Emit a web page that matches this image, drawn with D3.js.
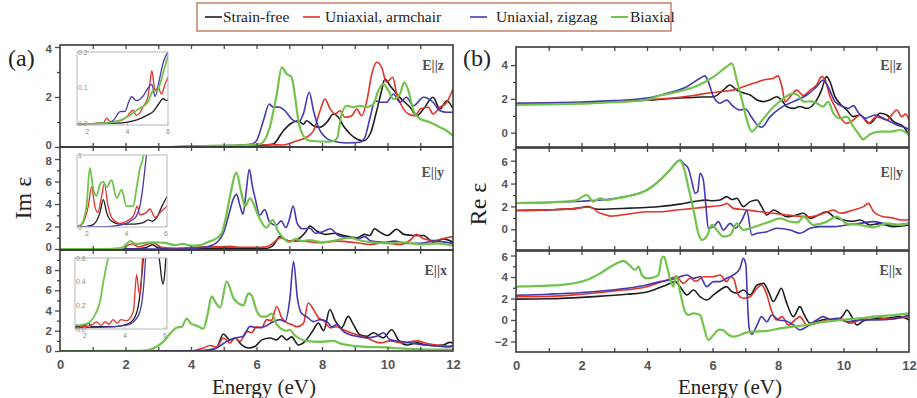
<!DOCTYPE html>
<html>
<head>
<meta charset="utf-8">
<script src="https://cdn.jsdelivr.net/npm/d3@7/dist/d3.min.js"></script>
<style>
  html, body { margin: 0; padding: 0; background: #fff; }
  svg { display: block; }
</style>
</head>
<body>
<svg id="chart" width="917" height="398"></svg>
<script>
// ---- series meta ----
const seriesNames = ["Strain-free", "Uniaxial, armchair", "Uniaxial, zigzag", "Biaxial"];
const seriesColors = ["#1e1e1e", "#e33227", "#4338b0", "#72c34c"];
const energyTicks = [0, 2, 4, 6, 8, 10, 12];
const insetTicks = [2, 4, 6];

// ---- (a) Im eps, E||z ----
const imZ_free = [[0,0],[3,0],[4,0.01],[5,0.03],[5.5,0.05],[6,0.07],[6.3,0.08],[6.51,0.12],[6.82,0.65],[7.02,0.91],[7.28,1.05],[7.43,0.91],[7.53,1.05],[7.74,0.85],[7.94,0.79],[8.15,0.99],[8.35,1.32],[8.5,1.19],[8.65,0.85],[8.86,0.52],[9.06,0.32],[9.26,0.25],[9.47,0.52],[9.67,1.45],[9.82,2.25],[9.92,2.72],[10.08,2.45],[10.28,2.12],[10.48,1.85],[10.69,1.59],[10.89,1.25],[11.1,1.52],[11.39,1.99],[11.6,1.52],[11.81,1.85],[12,1.52]];
const imZ_arm = [[0,0],[3,0],[4,0.02],[5.09,0.05],[6.39,0.09],[6.8,0.08],[7.23,0.25],[7.53,0.39],[7.74,0.65],[7.94,1.45],[8.09,1.92],[8.25,1.52],[8.4,1.32],[8.55,1.45],[8.7,1.19],[8.91,1.25],[9.06,1.52],[9.21,1.25],[9.37,1.85],[9.52,2.92],[9.67,3.39],[9.82,3.19],[9.97,2.59],[10.16,2.79],[10.28,2.12],[10.43,1.65],[10.64,1.32],[10.84,1.25],[11.0,1.52],[11.25,1.59],[11.39,1.32],[11.6,1.59],[11.81,1.79],[12,2.32]];
const imZ_zig = [[0,0],[3,0],[4,0.03],[5,0.05],[5.6,0.08],[5.85,0.12],[6.0,0.25],[6.21,1.05],[6.39,1.72],[6.51,1.59],[6.67,1.6],[6.87,1.45],[7.07,1.12],[7.28,0.99],[7.43,1.32],[7.61,2.19],[7.74,1.45],[7.89,0.79],[8.1,0.39],[8.35,0.23],[8.76,0.16],[9.16,0.19],[9.31,0.39],[9.47,1.19],[9.62,1.85],[9.77,1.79],[9.97,1.79],[10.18,2.12],[10.38,1.79],[10.58,1.99],[10.79,1.65],[11.1,1.99],[11.39,1.79],[11.6,1.45],[11.81,1.39],[12,1.39]];
const imZ_bi = [[0,0],[3,0],[4,0.02],[5,0.06],[5.7,0.08],[6.11,0.12],[6.39,0.72],[6.62,2.12],[6.77,3.19],[6.92,2.92],[7.07,2.79],[7.18,1.99],[7.28,1.05],[7.43,0.45],[7.63,0.25],[8.25,0.21],[8.45,0.32],[8.6,1.32],[8.76,1.65],[8.96,1.59],[9.16,1.65],[9.37,1.59],[9.57,1.72],[9.72,2.25],[9.87,2.52],[10.03,2.25],[10.18,1.92],[10.38,2.12],[10.51,2.59],[10.64,2.25],[10.79,1.45],[11.0,1.12],[11.3,0.99],[11.6,0.79],[11.81,0.65],[12,0.45]];

// ---- (a) Im eps, E||y ----
const imY_free = [[0,0],[2.3,0.02],[2.6,0.1],[2.83,0.38],[3.0,0.1],[3.5,0.04],[5,0.08],[6.3,0.05],[6.5,0.3],[6.72,1.1],[6.85,0.9],[7.02,0.7],[7.33,1.0],[7.5,1.5],[7.63,2.05],[7.84,1.6],[8.1,1.3],[8.4,1.4],[8.65,1.2],[9.06,1.0],[9.3,1.3],[9.46,1.2],[9.6,1.8],[9.77,1.5],[10.0,1.2],[10.28,1.75],[10.5,1.3],[10.8,1.2],[11.1,1.2],[11.4,0.6],[11.7,0.9],[12,0.6]];
const imY_arm = [[0,0],[1.8,0.02],[2.2,0.45],[2.4,0.2],[2.85,0.55],[3.1,0.15],[3.5,0.05],[4.5,0.2],[4.9,0.2],[5.2,0.25],[5.5,0.15],[6.0,0.15],[6.3,0.2],[6.52,0.56],[6.72,1.0],[7.02,0.7],[7.43,0.7],[7.94,0.55],[8.45,0.7],[9.06,0.55],[9.46,0.4],[9.87,0.55],[10.38,0.4],[10.7,0.8],[10.89,1.3],[11.1,0.9],[11.4,0.75],[11.8,1.0],[12,1.1]];
const imY_zig = [[0,0],[3.5,0],[4.0,0.05],[4.5,0.2],[4.8,0.6],[5.0,1.5],[5.15,3.0],[5.3,4.5],[5.39,4.86],[5.5,3.8],[5.59,3.1],[5.68,5.0],[5.78,7.08],[5.88,5.5],[5.96,4.5],[6.1,3.0],[6.25,3.5],[6.4,2.4],[6.6,2.1],[6.75,2.5],[6.9,1.9],[7.0,2.6],[7.12,3.82],[7.24,2.3],[7.4,1.8],[7.63,1.85],[7.8,1.4],[8.0,1.5],[8.25,1.8],[8.5,1.2],[8.8,1.0],[9.1,0.9],[9.3,1.1],[9.5,0.7],[9.9,0.6],[10.2,0.7],[10.6,0.5],[11,0.5],[11.4,0.7],[12,0.5]];
const imY_bi = [[0,0],[1.5,0],[1.9,0.1],[2.15,0.7],[2.3,0.45],[2.6,0.55],[2.85,0.6],[3.2,0.55],[3.5,0.35],[3.75,0.45],[4.0,0.3],[4.3,0.35],[4.5,0.6],[4.8,1.0],[4.95,1.5],[5.05,2.6],[5.19,4.7],[5.39,6.8],[5.52,5.2],[5.65,3.8],[5.8,4.5],[6.05,3.0],[6.3,1.9],[6.5,2.6],[6.65,1.6],[6.85,0.9],[7.0,0.6],[7.2,0.9],[7.4,0.7],[7.6,0.8],[8.0,0.6],[8.3,0.7],[8.6,0.9],[8.9,1.0],[9.1,0.8],[9.5,0.6],[10,0.5],[10.5,0.6],[11,0.4],[11.5,0.5],[12,0.3]];

// ---- (a) Im eps, E||x ----
const imX_free = [[0,0],[4.2,0],[4.6,0.1],[4.78,0.3],[4.99,1.68],[5.19,1.1],[5.34,1.28],[5.55,0.6],[5.75,0.3],[5.95,0.45],[6.16,1.1],[6.41,1.28],[6.62,1.1],[6.77,1.5],[6.92,1.1],[7.07,1.4],[7.28,0.6],[7.48,0.95],[7.74,2.1],[7.89,2.77],[8.05,2.0],[8.24,4.1],[8.4,3.0],[8.6,2.3],[8.8,3.42],[8.96,2.6],[9.16,1.6],[9.36,1.45],[9.57,1.8],[9.87,1.3],[10.13,2.1],[10.33,1.1],[10.59,0.6],[10.89,0.8],[11.2,0.6],[11.5,0.55],[11.7,0.6],[11.9,0.85],[12,0.8]];
const imX_arm = [[0,0],[4.0,0],[4.38,0.3],[4.58,0.55],[4.78,0.4],[4.99,1.28],[5.19,0.8],[5.34,1.28],[5.5,0.95],[5.7,1.94],[5.85,1.8],[6.0,2.4],[6.16,2.3],[6.31,3.1],[6.45,3.0],[6.62,4.4],[6.77,3.3],[6.92,2.8],[7.08,2.6],[7.23,2.4],[7.43,2.7],[7.58,4.75],[7.74,4.1],[7.89,3.3],[8.05,3.0],[8.25,2.3],[8.45,2.4],[8.65,2.1],[9.06,1.6],[9.36,1.3],[9.77,0.8],[10.08,1.0],[10.48,0.8],[10.89,1.0],[11.2,0.75],[11.5,0.6],[11.9,0.5],[12,0.55]];
const imX_zig = [[0,0],[4.0,0],[4.5,0.1],[4.78,0.3],[5.09,0.95],[5.39,1.3],[5.6,1.45],[5.8,2.43],[6.0,2.3],[6.26,2.43],[6.51,2.9],[6.72,3.1],[6.87,2.9],[7.02,5.2],[7.13,8.85],[7.25,5.2],[7.38,3.7],[7.53,3.4],[7.74,2.9],[7.94,3.1],[8.15,2.9],[8.3,2.4],[8.45,2.6],[8.65,1.95],[8.86,1.6],[9.06,1.45],[9.36,1.3],[9.67,1.45],[9.87,1.8],[10.08,1.1],[10.38,0.95],[10.69,0.8],[11.1,0.6],[11.5,0.5],[11.9,0.4],[12,0.5]];
const imX_bi = [[0,0],[2.4,0.02],[2.7,0.1],[2.85,0.26],[3.15,0.9],[3.36,1.7],[3.56,2.3],[3.72,2.4],[3.87,3.2],[4.0,2.7],[4.18,2.5],[4.38,2.2],[4.5,3.5],[4.63,5.4],[4.75,4.8],[4.89,4.3],[5.09,6.85],[5.3,5.2],[5.45,4.7],[5.6,4.5],[5.75,5.7],[5.85,5.5],[6.0,4.0],[6.15,3.4],[6.3,3.4],[6.46,3.7],[6.62,2.6],[6.8,2.1],[6.92,2.0],[7.02,2.1],[7.15,1.6],[7.33,1.2],[7.53,1.0],[7.94,0.9],[8.35,1.0],[8.55,0.75],[8.96,0.5],[9.36,0.4],[9.97,0.35],[10.38,0.25],[11.2,0.15],[12,0.15]];

// ---- (a) insets, low-energy zoom ----
const inZ_free = [[1.5,0],[3.5,0.002],[4.0,0.005],[4.5,0.012],[5.0,0.025],[5.28,0.035],[5.52,0.054],[5.76,0.07],[5.93,0.065],[6,0.068]];
const inZ_arm = [[1.5,0],[2.8,0.003],[2.97,0.016],[3.15,0.005],[3.38,0.007],[3.7,0.01],[3.96,0.02],[4.27,0.038],[4.43,0.024],[4.6,0.03],[4.76,0.047],[5.0,0.074],[5.1,0.11],[5.2,0.148],[5.36,0.093],[5.52,0.1],[5.68,0.083],[5.85,0.11],[6,0.13]];
const inZ_zig = [[1.5,0],[3.0,0.003],[3.3,0.01],[3.63,0.034],[3.88,0.035],[4.05,0.06],[4.2,0.076],[4.43,0.065],[4.6,0.068],[4.8,0.08],[4.95,0.094],[5.2,0.11],[5.36,0.076],[5.6,0.13],[5.76,0.17],[6,0.2]];
const inZ_bi = [[1.5,0],[3.0,0.003],[3.5,0.008],[4.0,0.02],[4.5,0.04],[5.0,0.06],[5.28,0.093],[5.44,0.09],[5.6,0.11],[5.8,0.15],[6,0.19]];

const inY_free = [[1.5,0],[2.0,0.01],[2.3,0.03],[2.66,0.2],[2.83,0.38],[3.0,0.2],[3.25,0.08],[3.67,0.04],[4.4,0.04],[4.85,0.06],[5.1,0.1],[5.3,0.08],[5.55,0.14],[5.8,0.29],[6.05,0.42]];
const inY_arm = [[1.5,0],[1.7,0.02],[2.07,0.29],[2.24,0.56],[2.4,0.29],[2.55,0.2],[2.74,0.42],[2.88,0.6],[3.07,0.29],[3.33,0.1],[3.67,0.05],[4.0,0.08],[4.35,0.15],[4.55,0.29],[4.67,0.17],[5.0,0.2],[5.19,0.25],[5.45,0.13],[5.7,0.2],[6.05,0.29]];
const inY_zig = [[1.5,0],[3.0,0.005],[3.5,0.02],[4.0,0.05],[4.3,0.1],[4.5,0.15],[4.68,0.29],[4.85,0.6],[4.95,0.85],[5.05,1.1]];
const inY_bi = [[1.5,0.01],[1.7,0.03],[1.98,0.29],[2.15,0.82],[2.32,0.53],[2.49,0.43],[2.66,0.59],[2.83,0.63],[2.99,0.55],[3.25,0.65],[3.5,0.4],[3.76,0.52],[4.0,0.29],[4.35,0.29],[4.5,0.52],[4.67,0.8],[4.85,0.98],[4.95,1.2]];

const inX_free = [[1.5,0.02],[2.0,0.03],[2.17,0.05],[2.33,0.02],[3.0,0.02],[3.5,0.02],[4.08,0.04],[4.42,0.08],[4.67,0.2],[4.83,0.43],[4.95,0.7],[5.05,1.2],[5.3,1.2],[5.6,0.9],[5.68,0.65],[5.75,0.55],[5.82,0.44],[5.9,0.38],[5.98,0.46],[6.06,0.65]];
const inX_arm = [[1.5,0.01],[1.96,0.02],[2.3,0.03],[2.58,0.06],[2.8,0.03],[3.0,0.06],[3.2,0.04],[3.4,0.08],[3.6,0.05],[3.8,0.08],[4.08,0.07],[4.42,0.15],[4.58,0.46],[4.67,0.34],[4.75,0.29],[4.88,0.62],[5.0,1.0]];
const inX_zig = [[1.5,0.01],[3.0,0.015],[3.5,0.02],[4.0,0.03],[4.42,0.06],[4.75,0.15],[4.92,0.34],[5.03,0.62],[5.1,1.0]];
const inX_bi = [[1.5,0.03],[2.0,0.04],[2.25,0.06],[2.5,0.12],[2.75,0.23],[2.92,0.4],[3.08,0.54],[3.17,0.62],[3.3,0.9]];

// ---- (b) Re eps, E||z ----
const reZ_free = [[0,1.7],[1,1.72],[2,1.76],[3,1.82],[4,1.92],[5,2.05],[5.5,2.1],[6.03,2.13],[6.33,2.52],[6.53,2.82],[6.74,2.52],[6.95,2.35],[7.15,2.23],[7.36,1.93],[7.56,1.84],[7.76,1.95],[7.96,2.13],[8.12,1.9],[8.27,1.54],[8.47,1.44],[8.67,1.55],[8.88,1.44],[9.18,1.93],[9.33,2.52],[9.48,3.32],[9.59,3.0],[9.74,2.13],[9.9,1.7],[10.1,1.34],[10.3,0.95],[10.5,1.05],[10.81,0.55],[11.12,1.15],[11.32,1.05],[11.53,0.65],[11.83,0.36],[12,-0.14]];
const reZ_arm = [[0,1.7],[1,1.72],[2,1.76],[3,1.83],[4,1.95],[5,2.1],[5.42,2.2],[5.82,2.33],[6.23,2.43],[6.64,2.52],[6.94,2.72],[7.25,2.92],[7.56,3.12],[7.86,3.22],[8.0,3.36],[8.12,2.72],[8.22,1.84],[8.37,2.13],[8.57,2.52],[8.77,2.2],[8.98,2.52],[9.18,2.82],[9.33,3.32],[9.43,3.16],[9.59,2.13],[9.74,1.54],[9.89,0.95],[10.1,0.55],[10.3,0.75],[10.51,1.05],[10.76,0.55],[11.01,0.95],[11.32,0.75],[11.63,1.34],[11.78,0.95],[11.9,1.1],[12,0.75]];
const reZ_zig = [[0,1.75],[1,1.77],[2,1.82],[3,1.9],[4,2.05],[4.6,2.33],[5.22,2.72],[5.62,3.22],[5.77,3.36],[5.87,3.02],[6.03,2.13],[6.23,1.74],[6.43,1.93],[6.64,1.54],[6.84,1.34],[7.0,1.4],[7.2,0.9],[7.4,0.4],[7.5,0.32],[7.76,0.95],[8.06,1.44],[8.47,1.84],[8.88,2.23],[9.18,2.72],[9.38,3.12],[9.53,2.72],[9.74,1.84],[9.99,1.54],[10.15,1.44],[10.3,1.6],[10.45,1.2],[10.66,0.85],[10.96,1.05],[11.32,0.75],[11.63,0.46],[11.93,0.26],[12,0.2]];
const reZ_bi = [[0,1.65],[1,1.67],[2,1.72],[3,1.8],[4,1.95],[4.4,2.2],[5.0,2.45],[5.5,2.75],[6.03,3.3],[6.43,3.9],[6.59,4.1],[6.74,3.12],[6.9,1.93],[7.05,0.75],[7.2,0.06],[7.36,0.36],[7.56,0.85],[7.87,1.54],[8.17,2.03],[8.47,2.33],[8.62,2.2],[8.78,1.84],[9.0,1.85],[9.18,1.74],[9.38,1.54],[9.53,1.84],[9.69,1.15],[9.89,0.85],[10.1,0.95],[10.3,0.36],[10.45,-0.04],[10.6,-0.39],[10.8,-0.1],[11.1,0.06],[11.42,0.06],[11.73,0.16],[12,-0.14]];

// ---- (b) Re eps, E||y ----
const reY_free = [[0,1.65],[1,1.7],[1.85,1.83],[2.2,1.98],[2.4,1.8],[2.6,1.75],[3,1.8],[3.5,1.85],[4.4,2.0],[5.0,2.2],[5.42,2.42],[5.82,2.55],[6.0,2.5],[6.23,2.56],[6.43,2.86],[6.6,2.6],[6.74,2.71],[6.94,1.98],[7.15,2.42],[7.36,2.56],[7.5,1.98],[7.66,1.25],[7.86,1.69],[8.06,1.4],[8.27,1.1],[8.5,1.2],[8.78,1.4],[8.98,0.96],[9.2,1.2],[9.49,1.54],[9.7,1.1],[10.0,0.81],[10.25,0.7],[10.51,0.81],[10.81,0.38],[11.1,0.5],[11.53,0.23],[12,0.38]];
const reY_arm = [[0,1.65],[1,1.7],[1.85,1.83],[2.2,1.95],[2.35,1.85],[2.5,1.5],[2.7,1.3],[2.9,1.15],[3.1,1.2],[3.59,1.4],[3.99,1.54],[4.4,1.54],[4.9,1.69],[5.42,1.83],[5.92,1.98],[6.33,2.13],[6.43,2.27],[6.64,1.83],[7.05,1.69],[7.45,1.54],[7.86,1.4],[8.27,1.25],[8.98,1.1],[9.39,1.4],[9.69,1.69],[9.9,1.4],[10.3,1.69],[10.61,1.98],[10.76,2.27],[10.92,1.54],[11.22,1.1],[11.5,1.0],[11.73,0.81],[12,0.81]];
const reY_zig = [[0,2.3],[1,2.35],[2,2.45],[3,2.7],[3.5,2.95],[4.0,3.44],[4.4,4.32],[4.7,5.2],[5.01,6.06],[5.11,5.77],[5.26,5.33],[5.36,4.3],[5.47,3.15],[5.55,3.3],[5.62,4.9],[5.72,4.3],[5.8,2.0],[5.87,0.09],[6.03,0.23],[6.18,0.67],[6.33,-0.06],[6.54,0.52],[6.7,0.09],[6.9,0.81],[7.05,1.63],[7.2,-0.5],[7.36,-0.35],[7.66,-0.21],[7.96,0.09],[8.37,-0.06],[8.67,-0.35],[8.98,0.09],[9.28,0.23],[9.69,0.23],[10.1,0.38],[10.5,0.52],[10.92,0.67],[11.22,0.52],[11.53,0.38],[12,0.52]];
const reY_bi = [[0,2.3],[1,2.35],[1.8,2.5],[2.16,3.0],[2.36,2.42],[2.57,2.71],[2.77,2.56],[3.08,2.71],[3.5,2.95],[4.0,3.44],[4.4,4.3],[4.7,5.2],[5.01,6.0],[5.11,5.5],[5.26,3.73],[5.42,1.69],[5.57,-0.35],[5.67,-0.93],[5.82,-0.64],[5.98,0.38],[6.13,-0.06],[6.33,-0.64],[6.54,-0.5],[6.74,0.52],[6.94,-0.06],[7.15,0.09],[7.45,0.38],[7.76,0.67],[8.06,0.96],[8.37,0.67],[8.6,0.6],[8.78,1.1],[9.08,0.38],[9.49,0.67],[9.79,1.1],[10.1,0.5],[10.5,0.38],[10.92,0.17],[11.32,0.52],[11.73,0.38],[12,0.52]];

// ---- (b) Re eps, E||x ----
const reX_free = [[0,1.94],[1,1.97],[2.36,2.17],[3.38,2.39],[4.0,2.6],[4.2,2.8],[4.6,3.26],[4.86,3.57],[5.01,3.1],[5.22,2.33],[5.42,2.79],[5.62,2.17],[5.82,1.86],[6.03,2.33],[6.23,2.79],[6.43,3.1],[6.59,2.64],[6.75,2.5],[6.94,2.79],[7.15,2.33],[7.36,3.26],[7.56,3.41],[7.71,2.64],[7.86,1.71],[7.98,2.3],[8.1,2.95],[8.25,1.71],[8.47,0.31],[8.67,1.24],[8.8,0.5],[8.98,-0.31],[9.18,-0.16],[9.49,0.09],[9.75,0.0],[10.0,0.47],[10.1,0.93],[10.25,0.31],[10.41,-0.47],[10.6,-0.1],[10.92,0.09],[11.3,0.15],[11.73,0.31],[12,0.0]];
const reX_arm = [[0,2.17],[1,2.2],[2,2.4],[3,2.7],[3.99,3.1],[4.6,3.72],[4.9,4.03],[5.11,3.41],[5.32,3.88],[5.5,3.6],[5.72,4.03],[6.03,4.03],[6.23,4.19],[6.43,3.57],[6.55,4.0],[6.64,3.88],[6.79,2.33],[6.94,2.02],[7.15,2.17],[7.36,2.95],[7.5,3.26],[7.66,2.33],[7.81,0.78],[7.96,0.0],[8.12,0.31],[8.32,-0.47],[8.52,0.0],[8.67,0.31],[8.88,-0.47],[9.18,-0.31],[9.49,0.0],[9.89,0.16],[10.2,-0.31],[10.5,0.0],[10.92,0.31],[11.32,0.09],[12,0.31]];
const reX_zig = [[0,2.3],[1,2.4],[2.36,2.63],[3.38,2.95],[3.99,3.26],[4.4,3.57],[4.7,3.72],[5.01,4.03],[5.22,4.19],[5.42,3.88],[5.62,4.03],[5.82,3.1],[6.03,3.57],[6.23,3.57],[6.43,3.88],[6.64,4.19],[6.84,4.81],[6.94,5.73],[7.02,5.12],[7.06,2.33],[7.12,-0.78],[7.2,-1.33],[7.36,-0.47],[7.5,0.31],[7.66,-0.16],[7.81,0.47],[8.02,0.0],[8.25,-0.1],[8.47,-0.47],[8.67,-0.93],[8.88,-0.62],[9.18,0.0],[9.38,0.31],[9.6,0.05],[9.79,0.16],[10.1,-0.16],[10.5,0.0],[11.0,0.0],[11.53,0.09],[12,0.47]];
const reX_bi = [[0,3.1],[1,3.2],[1.34,3.25],[2.16,3.72],[2.57,4.34],[2.98,5.12],[3.28,5.5],[3.48,5.05],[3.63,4.65],[3.74,4.96],[3.84,4.2],[3.99,3.88],[4.2,3.97],[4.35,4.19],[4.45,5.73],[4.52,5.89],[4.6,5.12],[4.7,3.88],[4.8,3.1],[4.89,4.12],[5.01,2.6],[5.16,0.78],[5.26,0.47],[5.42,0.62],[5.62,0.47],[5.72,-0.47],[5.87,-1.86],[6.03,-1.4],[6.2,-0.9],[6.33,-0.93],[6.43,-1.24],[6.64,-1.55],[6.84,-1.4],[7.05,-1.15],[7.25,-1.09],[7.66,-1.02],[8.06,-0.78],[8.47,-0.62],[8.88,-0.47],[9.28,-0.22],[9.69,-0.09],[10.1,0.06],[10.5,0.16],[10.92,0.31],[11.32,0.4],[12,0.62]];

// ---- layout ----
const svg = d3.select("#chart");
const serif = "'Liberation Serif', 'Times New Roman', serif";
const sans = "'Liberation Sans', Arial, sans-serif";
const axisGrey = "#4a4a4a";

const colA = [60, 453], colB = [516, 909];
const xA = d3.scaleLinear().domain([0, 12]).range(colA);
const xB = d3.scaleLinear().domain([0, 12]).range(colB);

const panels = [
  { x: xA, top: 45,  bottom: 147, dom: [0, 4.08],      major: [0,2,4],      minor: [1,3],          label: "E||z", lx: 444, ly: 70,  data: [imZ_free, imZ_arm, imZ_zig, imZ_bi], bottomAxis: false },
  { x: xA, top: 147, bottom: 250, dom: [-0.09, 9.07],  major: [0,2,4,6,8],  minor: [1,3,5,7],      label: "E||y", lx: 444, ly: 177, data: [imY_free, imY_arm, imY_zig, imY_bi], bottomAxis: false },
  { x: xA, top: 250, bottom: 351, dom: [0, 9.98],      major: [0,2,4,6,8],  minor: [1,3,5,7,9],    label: "E||x", lx: 447, ly: 275, data: [imX_free, imX_arm, imX_zig, imX_bi], bottomAxis: true },
  { x: xB, top: 47,  bottom: 147, dom: [-0.846, 5.07], major: [0,2,4],      minor: [1,3],          label: "E||z", lx: 902, ly: 70,  data: [reZ_free, reZ_arm, reZ_zig, reZ_bi], bottomAxis: false },
  { x: xB, top: 148, bottom: 250, dom: [-1.81, 7.11],  major: [0,2,4,6],    minor: [-1,1,3,5,7],   label: "E||y", lx: 903, ly: 177, data: [reY_free, reY_arm, reY_zig, reY_bi], bottomAxis: false },
  { x: xB, top: 251, bottom: 352, dom: [-2.98, 6.42],  major: [-2,0,2,4,6], minor: [-1,1,3,5],     label: "E||x", lx: 902, ly: 275, data: [reX_free, reX_arm, reX_zig, reX_bi], bottomAxis: true }
];

const insets = [
  { x0: 77, x1: 168, top: 52,  bottom: 125, xdom: [1.5, 6.0],  ydom: [-0.003, 0.2], yTicks: [0, 0.1, 0.2], fmt: d3.format(".1f"), data: [inZ_free, inZ_arm, inZ_zig, inZ_bi] },
  { x0: 77, x1: 167, top: 155, bottom: 227, xdom: [1.5, 6.05], ydom: [0, 1],        yTicks: [0, 1],         fmt: d3.format("d"),   data: [inY_free, inY_arm, inY_zig, inY_bi] },
  { x0: 75, x1: 167, top: 258, bottom: 329, xdom: [1.5, 6.1],  ydom: [0, 0.6],      yTicks: [0, 0.2, 0.4, 0.6], fmt: d3.format(".1f"), data: [inX_free, inX_arm, inX_zig, inX_bi] }
];

const defs = svg.append("defs");
let clipId = 0;
function clipRect(x, y, w, h) {
  const id = "clip" + (clipId++);
  defs.append("clipPath").attr("id", id).append("rect").attr("x", x).attr("y", y).attr("width", w).attr("height", h);
  return "url(#" + id + ")";
}

// ---- main panels ----
panels.forEach(p => {
  const y = d3.scaleLinear().domain(p.dom).range([p.bottom, p.top]);
  const [x0, x1] = p.x.range();
  const g = svg.append("g");

  const line = d3.line().x(d => p.x(d[0])).y(d => y(d[1])).curve(d3.curveMonotoneX);
  const lines = g.append("g").attr("clip-path", clipRect(x0, p.top, x1 - x0, p.bottom - p.top));
  p.data.forEach((series, i) => {
    lines.append("path").datum(series)
      .attr("d", line)
      .attr("fill", "none")
      .attr("stroke", seriesColors[i])
      .attr("stroke-width", i === 3 ? 2.2 : 1.6)
      .attr("stroke-linejoin", "round");
  });

  // left axis, ticks pointing outward
  const yAxis = d3.axisLeft(y).tickValues(p.major).tickSize(5).tickPadding(3).tickFormat(d3.format("d"));
  const ya = g.append("g").attr("transform", `translate(${x0},0)`).call(yAxis);
  ya.select(".domain").remove();
  ya.selectAll("line").attr("stroke", axisGrey).attr("stroke-width", 1.3);
  ya.selectAll("text").attr("font-family", sans).attr("font-size", 11.5).attr("font-weight", "bold").attr("fill", "#555")
    .attr("dy", d => {
      // keep labels that sit on a shared panel edge clear of their neighbours
      const py = y(d);
      if (p.bottom - py < 2) return "0.1em";
      if (py - p.top < 14) return "0.45em";
      return "0.32em";
    });
  const ym = d3.axisLeft(y).tickValues(p.minor).tickSize(3).tickFormat("");
  const ymg = g.append("g").attr("transform", `translate(${x0},0)`).call(ym);
  ymg.select(".domain").remove();
  ymg.selectAll("line").attr("stroke", axisGrey).attr("stroke-width", 1.3);

  // energy ticks pointing inward on top and bottom edges
  const eTicks = d3.range(1, 12);
  const xt = d3.axisTop(p.x).tickValues(eTicks).tickSize(-4).tickFormat("");
  const xtg = g.append("g").attr("transform", `translate(0,${p.top})`).call(xt);
  xtg.select(".domain").remove();
  xtg.selectAll("line").attr("stroke", axisGrey).attr("stroke-width", 1.3);
  const xb = d3.axisBottom(p.x).tickValues(eTicks).tickSize(-4).tickFormat("");
  const xbg = g.append("g").attr("transform", `translate(0,${p.bottom})`).call(xb);
  xbg.select(".domain").remove();
  xbg.selectAll("line").attr("stroke", axisGrey).attr("stroke-width", 1.3);

  if (p.bottomAxis) {
    const xl = d3.axisBottom(p.x).tickValues(energyTicks).tickSize(0).tickPadding(9).tickFormat(d3.format("d"));
    const xlg = g.append("g").attr("transform", `translate(0,${p.bottom})`).call(xl);
    xlg.select(".domain").remove();
    xlg.selectAll("text").attr("font-family", sans).attr("font-size", 13).attr("font-weight", "bold").attr("fill", "#555");
  }

  g.append("rect").attr("x", x0).attr("y", p.top).attr("width", x1 - x0).attr("height", p.bottom - p.top)
    .attr("fill", "none").attr("stroke", "#3a3a3a").attr("stroke-width", 1.6);

  g.append("text").attr("x", p.lx).attr("y", p.ly).attr("text-anchor", "end")
    .attr("font-family", serif).attr("font-size", 14).attr("font-weight", "bold").attr("fill", "#505050")
    .text(p.label);
});

// ---- insets ----
insets.forEach(s => {
  const x = d3.scaleLinear().domain(s.xdom).range([s.x0, s.x1]);
  const y = d3.scaleLinear().domain(s.ydom).range([s.bottom, s.top]);
  const g = svg.append("g");
  g.append("rect").attr("x", s.x0).attr("y", s.top).attr("width", s.x1 - s.x0).attr("height", s.bottom - s.top)
    .attr("fill", "#fff");
  const line = d3.line().x(d => x(d[0])).y(d => y(d[1])).curve(d3.curveMonotoneX);
  const lg = g.append("g").attr("clip-path", clipRect(s.x0, s.top, s.x1 - s.x0, s.bottom - s.top));
  s.data.forEach((series, i) => {
    lg.append("path").datum(series).attr("d", line).attr("fill", "none")
      .attr("stroke", seriesColors[i]).attr("stroke-width", i === 3 ? 1.8 : 1.3).attr("stroke-linejoin", "round");
  });
  g.append("rect").attr("x", s.x0).attr("y", s.top).attr("width", s.x1 - s.x0).attr("height", s.bottom - s.top)
    .attr("fill", "none").attr("stroke", "#b5b5b5").attr("stroke-width", 1);
  g.selectAll("text.iy").data(s.yTicks).join("text").attr("class", "iy")
    .attr("x", s.x0 + 1).attr("y", d => y(d) + 2.5)
    .attr("font-family", sans).attr("font-size", 7).attr("fill", "#8a8a8a").text(d => s.fmt(d));
  g.selectAll("text.ix").data(insetTicks).join("text").attr("class", "ix")
    .attr("x", d => x(d)).attr("y", s.bottom + 9).attr("text-anchor", "middle")
    .attr("font-family", sans).attr("font-size", 7).attr("fill", "#8a8a8a").text(d => d);
  g.selectAll("line.it").data(insetTicks).join("line").attr("class", "it")
    .attr("x1", d => x(d)).attr("x2", d => x(d)).attr("y1", s.bottom).attr("y2", s.bottom - 2)
    .attr("stroke", "#b5b5b5");
});

// ---- titles ----
svg.append("text").attr("x", 8).attr("y", 66).attr("font-family", serif).attr("font-size", 24).attr("fill", "#222").text("(a)");
svg.append("text").attr("x", 463).attr("y", 66).attr("font-family", serif).attr("font-size", 24).attr("fill", "#222").text("(b)");
svg.append("text").attr("transform", "translate(31,198) rotate(-90)").attr("text-anchor", "middle")
  .attr("font-family", serif).attr("font-size", 24).attr("fill", "#222").text("Im ε");
svg.append("text").attr("transform", "translate(486,204) rotate(-90)").attr("text-anchor", "middle")
  .attr("font-family", serif).attr("font-size", 24).attr("fill", "#222").text("Re ε");
svg.append("text").attr("x", 264).attr("y", 394).attr("text-anchor", "middle")
  .attr("font-family", serif).attr("font-size", 21).attr("fill", "#222").text("Energy (eV)");
svg.append("text").attr("x", 730).attr("y", 394).attr("text-anchor", "middle")
  .attr("font-family", serif).attr("font-size", 21).attr("fill", "#222").text("Energy (eV)");

// ---- legend ----
const legend = svg.append("g");
legend.append("rect").attr("x", 197).attr("y", 3).attr("width", 474).attr("height", 28)
  .attr("fill", "#fff").attr("stroke", "#c98a6e").attr("stroke-width", 1.6);
const legendLineX = [205, 303, 470, 611];
const legendTextX = [223, 325, 496, 630];
seriesNames.forEach((name, i) => {
  legend.append("line").attr("x1", legendLineX[i]).attr("x2", legendLineX[i] + 17).attr("y1", 17).attr("y2", 17)
    .attr("stroke", seriesColors[i]).attr("stroke-width", i === 3 ? 2 : 1.6);
  legend.append("text").attr("x", legendTextX[i]).attr("y", 22)
    .attr("font-family", serif).attr("font-size", 15.5).attr("fill", "#222").text(name);
});
</script>
</body>
</html>
